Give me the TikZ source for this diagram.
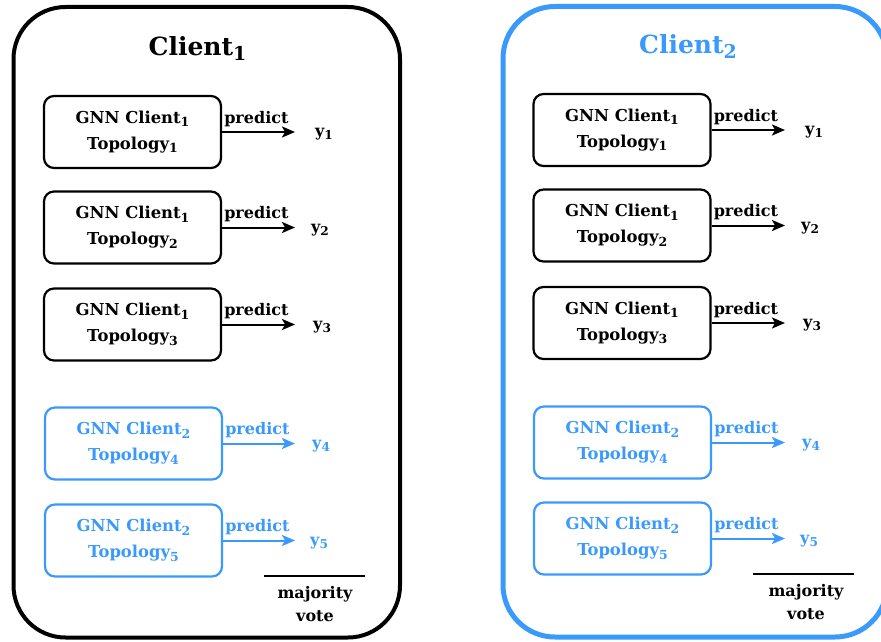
\documentclass[tikz,border=0pt]{standalone}
\usepackage{fontspec}
\newfontfamily\dser{DejaVu Serif}
\usepackage{graphicx}
\usetikzlibrary{arrows.meta}
\definecolor{cblue}{RGB}{58,154,252}
\newcommand{\sbx}[1]{\raisebox{-0.2em}{\scalebox{0.76}{#1}}}
\tikzset{
  frame/.style={line width=4pt, rounded corners=52pt},
  gbox/.style={draw, line width=2.2pt, rounded corners=10pt, minimum width=177pt,
    minimum height=72pt, align=center, inner sep=0pt,
    font=\dser\fontsize{16.4}{26}\selectfont\bfseries},
  lbl/.style={font=\dser\fontsize{16}{20}\selectfont\bfseries, inner sep=0pt},
  ttl/.style={font=\dser\fontsize{25}{29}\selectfont\bfseries, inner sep=0pt, anchor=base},
  arr/.style={line width=2pt, -{Stealth[length=13pt,width=11pt,inset=3pt]}},
  blue/.style={draw=cblue, text=cblue, color=cblue}
}
\begin{document}
\begin{tikzpicture}[x=1pt,y=-1pt]
\useasboundingbox (0,0) rectangle (881,642);
\clip (0,0) rectangle (881,642);

% frames
\draw[frame] (13.5,7) rectangle (400,637.5);
\draw[frame, line width=5pt, cblue] (503,6.5) rectangle (887,637);

% titles
\node[ttl] (t1) at (197.5,56) {Client\sbx{1}};
\node[ttl, text=cblue] (t2) at (688,54) {Client\sbx{2}};

% ---------- left client ----------
\node[gbox] (l1) at (132.5,132) {GNN Client\sbx{1}\\Topology\sbx{1}};
\node[gbox] (l2) at (132.5,227.5) {GNN Client\sbx{1}\\Topology\sbx{2}};
\node[gbox] (l3) at (132.5,324.5) {GNN Client\sbx{1}\\Topology\sbx{3}};
\node[gbox, blue] (l4) at (133.5,443.5) {GNN Client\sbx{2}\\Topology\sbx{4}};
\node[gbox, blue] (l5) at (133.5,540.5) {GNN Client\sbx{2}\\Topology\sbx{5}};

\foreach \n/\yy/\xx/\c in {1/132/315/black, 2/227.5/311/black, 3/324.5/313/black, 4/443.5/312/cblue, 5/540.5/310/cblue}{
  \coordinate (le\n) at (295,\yy);
  \draw[arr, \c] (l\n.east) -- (le\n);
  \node[lbl, text=\c, anchor=base west] (lp\n) at ([xshift=2pt, yshift=8.7pt]l\n.east) {predict};
  \node[lbl, text=\c, anchor=base west] (ly\n) at (\xx,\yy+4.5) {y\sbx{\n}};
}

\coordinate (lm1) at (264,576);
\coordinate (lm2) at (365,576);
\draw[line width=2.2pt] (lm1) -- (lm2);
\node[lbl, anchor=base] (lv1) at (315,598) {majority};
\node[lbl, anchor=base] (lv2) at (315,621.5) {vote};

% ---------- right client ----------
\node[gbox] (r1) at (622,130) {GNN Client\sbx{1}\\Topology\sbx{1}};
\node[gbox] (r2) at (622,225.5) {GNN Client\sbx{1}\\Topology\sbx{2}};
\node[gbox] (r3) at (622,323) {GNN Client\sbx{1}\\Topology\sbx{3}};
\node[gbox, blue] (r4) at (622.5,442.5) {GNN Client\sbx{2}\\Topology\sbx{4}};
\node[gbox, blue] (r5) at (622.5,538.5) {GNN Client\sbx{2}\\Topology\sbx{5}};

\foreach \n/\yy/\xx/\c in {1/130/805/black, 2/225.5/801/black, 3/323/803/black, 4/442.5/802/cblue, 5/538.5/800/cblue}{
  \coordinate (re\n) at (785,\yy);
  \draw[arr, \c] (r\n.east) -- (re\n);
  \node[lbl, text=\c, anchor=base west] (rp\n) at ([xshift=2pt, yshift=8.7pt]r\n.east) {predict};
  \node[lbl, text=\c, anchor=base west] (ry\n) at (\xx,\yy+4.5) {y\sbx{\n}};
}

\coordinate (rm1) at (753,574);
\coordinate (rm2) at (854,574);
\draw[line width=2.2pt] (rm1) -- (rm2);
\node[lbl, anchor=base] (rv1) at (806,596) {majority};
\node[lbl, anchor=base] (rv2) at (806,619.5) {vote};
\end{tikzpicture}
\end{document}
